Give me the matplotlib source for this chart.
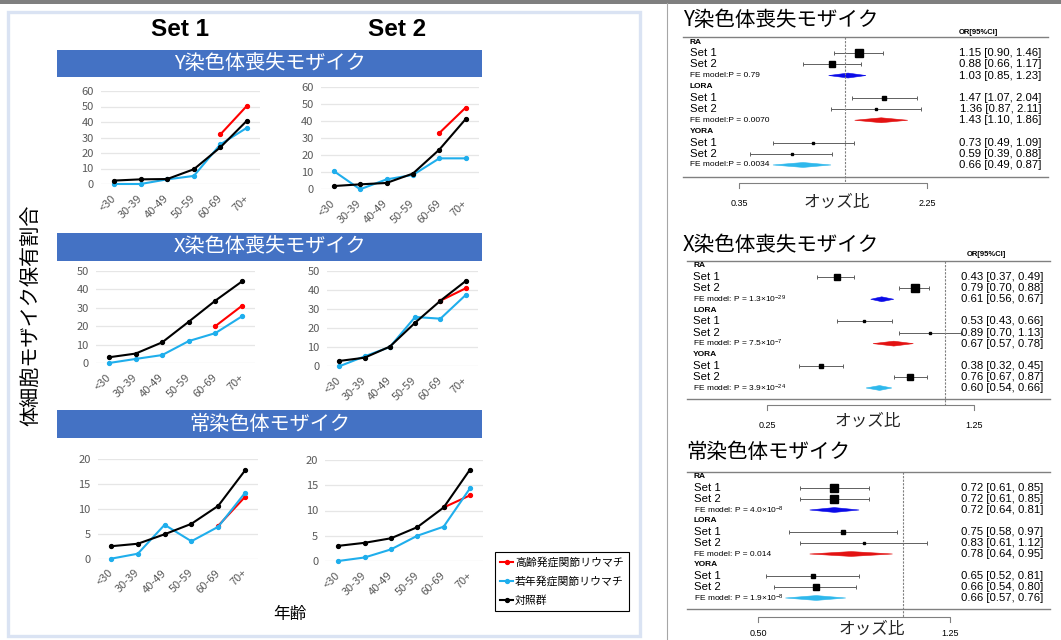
import numpy as np
import matplotlib
matplotlib.use("Agg")
import matplotlib.pyplot as plt
from matplotlib.patches import Rectangle, Polygon
from matplotlib.lines import Line2D

plt.rcParams['font.family'] = ['Noto Sans CJK JP', 'DejaVu Sans']
plt.rcParams['mathtext.default'] = 'regular'

# ---------------- data: prevalence of mosaicism by age group (%) ----------------
age_groups = ["<30", "30-39", "40-49", "50-59", "60-69", "70+"]
late_groups = ["60-69", "70+"]          # ages available for late-onset RA

lossy_set1_ctrl = [2.2, 3.0, 3.2, 9.5, 23.7, 40.9]
lossy_set1_yora = [0.0, 0.0, 3.0, 5.2, 25.6, 36.3]
lossy_set1_lora = [32.0, 50.5]
lossy_set2_ctrl = [1.9, 2.9, 3.7, 9.2, 23.2, 41.1]
lossy_set2_yora = [10.7, 0.0, 5.8, 8.4, 18.1, 18.1]
lossy_set2_lora = [32.9, 47.8]

lossx_set1_ctrl = [3.1, 5.1, 11.2, 22.4, 33.8, 44.2]
lossx_set1_yora = [0.0, 2.2, 4.3, 11.9, 16.2, 25.3]
lossx_set1_lora = [20.0, 31.0]
lossx_set2_ctrl = [2.8, 4.5, 10.3, 22.8, 34.3, 44.6]
lossx_set2_yora = [0.0, 5.2, 10.1, 25.8, 24.9, 37.3]
lossx_set2_lora = [34.3, 40.8]

auto_set1_ctrl = [2.5, 3.0, 4.9, 7.0, 10.6, 17.7]
auto_set1_yora = [0.0, 1.0, 6.8, 3.5, 6.4, 13.2]
auto_set1_lora = [6.6, 12.4]
auto_set2_ctrl = [3.0, 3.6, 4.5, 6.7, 10.6, 18.1]
auto_set2_yora = [0.0, 0.7, 2.3, 5.0, 6.8, 14.4]
auto_set2_lora = [10.6, 13.0]

yticks_lossy = [0, 10, 20, 30, 40, 50, 60]
yticks_lossx = [0, 10, 20, 30, 40, 50]
yticks_auto = [0, 5, 10, 15, 20]

series_labels = ["高齢発症関節リウマチ", "若年発症関節リウマチ", "対照群"]
panel_titles = ["Y染色体喪失モザイク", "X染色体喪失モザイク", "常染色体モザイク"]

# ---------------- data: odds ratios (Set 1, Set 2 per group) ----------------
groups = ["RA", "LORA", "YORA"]
studies = ["Set 1", "Set 2"]

lossy_or = [1.15, 0.88, 1.47, 1.36, 0.73, 0.59]
lossy_lo = [0.90, 0.66, 1.07, 0.87, 0.49, 0.39]
lossy_hi = [1.46, 1.17, 2.04, 2.11, 1.09, 0.88]
lossy_fe_or = [1.03, 1.43, 0.66]
lossy_fe_lo = [0.85, 1.10, 0.49]
lossy_fe_hi = [1.23, 1.86, 0.87]
lossy_fe_p = ["FE model:P = 0.79", "FE model:P = 0.0070", "FE model:P = 0.0034"]

lossx_or = [0.43, 0.79, 0.53, 0.89, 0.38, 0.76]
lossx_lo = [0.37, 0.70, 0.43, 0.70, 0.32, 0.67]
lossx_hi = [0.49, 0.88, 0.66, 1.13, 0.45, 0.87]
lossx_fe_or = [0.61, 0.67, 0.60]
lossx_fe_lo = [0.56, 0.57, 0.54]
lossx_fe_hi = [0.67, 0.78, 0.66]
lossx_fe_p = [r"FE model: P = 1.3×10$^{-29}$", r"FE model: P = 7.5×10$^{-7}$",
              r"FE model: P = 3.9×10$^{-24}$"]

auto_or = [0.72, 0.72, 0.75, 0.83, 0.65, 0.66]
auto_lo = [0.61, 0.61, 0.58, 0.61, 0.52, 0.54]
auto_hi = [0.85, 0.85, 0.97, 1.12, 0.81, 0.80]
auto_fe_or = [0.72, 0.78, 0.66]
auto_fe_lo = [0.64, 0.64, 0.57]
auto_fe_hi = [0.81, 0.95, 0.76]
auto_fe_p = [r"FE model: P = 4.0×10$^{-8}$", "FE model: P = 0.014",
             r"FE model: P = 1.9×10$^{-8}$"]

# ---------------- figure and pixel helpers ----------------
W, H = 1061, 640
fig = plt.figure(figsize=(W / 100, H / 100), dpi=100)
fig.patch.set_facecolor('white')


def fx(px):
    return px / W


def fy(py):
    return 1 - py / H


def px_axes(l, t, r, b):
    return fig.add_axes([l / W, 1 - b / H, (r - l) / W, (b - t) / H])


def fig_rect(l, t, r, b, **kw):
    fig.patches.append(Rectangle((fx(l), fy(b)), (r - l) / W, (b - t) / H,
                                 transform=fig.transFigure, **kw))


# frame decorations
fig_rect(0, 0, W, 3.5, facecolor='#7F7F7F', edgecolor='none')
fig.add_artist(Line2D([fx(667), fx(667)], [0, fy(3)], transform=fig.transFigure,
                      color='#A6A6A6', lw=0.8))
fig_rect(8, 12, 640, 636, facecolor='none', edgecolor='#DAE3F3', lw=2.4)

# ---------------- line charts ----------------
C_LORA, C_YORA, C_CTRL = '#FF0000', '#1FAEEC', '#000000'
GRAY = '#595959'

fig.text(fx(180), fy(30), "Set 1", fontsize=17.5, fontweight='bold',
         family=['Liberation Sans'], ha='center', va='center')
fig.text(fx(397), fy(30), "Set 2", fontsize=17.5, fontweight='bold',
         family=['Liberation Sans'], ha='center', va='center')

bands = [(50, 77), (233, 261), (410, 438)]
for (bt, bb), title in zip(bands, panel_titles):
    fig_rect(57, bt, 482, bb, facecolor='#4472C4', edgecolor='none')
    fig.text(fx(269.5), fy((bt + bb) / 2), title, color='white', fontsize=14.5,
             ha='center', va='center')

# (first category x, last category x, pixel of 0, pixel of top tick)
chart_boxes = [
    (114, 247, 184.0, 91.0), (333.7, 465.7, 189.3, 86.7),
    (109, 242, 363.0, 270.7), (339.3, 465.7, 366.3, 270.7),
    (111, 245, 558.7, 459.0), (338.3, 470, 561.0, 460.0),
]
chart_data = [
    (lossy_set1_ctrl, lossy_set1_yora, lossy_set1_lora, yticks_lossy),
    (lossy_set2_ctrl, lossy_set2_yora, lossy_set2_lora, yticks_lossy),
    (lossx_set1_ctrl, lossx_set1_yora, lossx_set1_lora, yticks_lossx),
    (lossx_set2_ctrl, lossx_set2_yora, lossx_set2_lora, yticks_lossx),
    (auto_set1_ctrl, auto_set1_yora, auto_set1_lora, yticks_auto),
    (auto_set2_ctrl, auto_set2_yora, auto_set2_lora, yticks_auto),
]

xpos = np.arange(len(age_groups))
late_pos = [age_groups.index(g) for g in late_groups]
handles = None
for (x0, x5, y0, ytop), (ctrl, yora, lora, yt) in zip(chart_boxes, chart_data):
    step = (x5 - x0) / (len(age_groups) - 1)
    ax = px_axes(x0 - step / 2, ytop, x5 + step / 2, y0)
    ax.set_xlim(-0.5, len(age_groups) - 0.5)
    ax.set_ylim(yt[0], yt[-1])
    kw = dict(lw=1.5, marker='o', markersize=2.8, clip_on=False)
    h_l, = ax.plot(late_pos, lora, color=C_LORA, zorder=3, **kw)
    h_y, = ax.plot(xpos, yora, color=C_YORA, zorder=4, **kw)
    h_c, = ax.plot(xpos, ctrl, color=C_CTRL, zorder=5, **kw)
    handles = [h_l, h_y, h_c]
    ax.set_yticks(yt)
    ax.set_xticks(xpos)
    ax.set_xticklabels(age_groups, rotation=45, ha='right', va='center',
                       rotation_mode='anchor')
    ax.tick_params(axis='both', length=0, labelsize=8, labelcolor=GRAY)
    ax.tick_params(axis='y', pad=5.0)
    ax.tick_params(axis='x', pad=9)
    ax.yaxis.grid(True, color='#E6E6E6', lw=0.9)
    ax.set_axisbelow(True)
    for s in ax.spines.values():
        s.set_visible(False)
    ax.patch.set_alpha(0)

fig.text(fx(32), fy(315), "体細胞モザイク保有割合", rotation=90, fontsize=14.5,
         ha='center', va='center')
fig.text(fx(290), fy(615), "年齢", fontsize=12, ha='center', va='center')

leg = fig.legend(handles, series_labels, loc='upper left',
                 bbox_to_anchor=(fx(495), fy(552)), bbox_transform=fig.transFigure,
                 frameon=True, fancybox=False, edgecolor='black', framealpha=1,
                 fontsize=7.8, handlelength=1.2, handletextpad=0.15, borderpad=0.5,
                 labelspacing=0.75, borderaxespad=0)
leg.get_frame().set_linewidth(0.8)

# ---------------- forest plots ----------------
LAT = ['Liberation Sans', 'DejaVu Sans']
FE_COLORS = ['#0B0BE8', '#E31212', '#2EB8EC']


def draw_forest(est, lo, hi, fe_est, fe_lo, fe_hi, fe_lab, title, lay):
    l, r, t, b = lay['box']
    row0, dy = lay['rows']
    ax = px_axes(l, t, r, b)
    ax.set_ylim((b - row0) / dy, (t - row0) / dy)
    (va_, pa), (vb, pb) = lay['scale']
    slope = (np.log(vb) - np.log(va_)) / (pb - pa)
    ax.set_xscale('log')
    ax.set_xlim(np.exp(np.log(va_) + (l - pa) * slope),
                np.exp(np.log(va_) + (r - pa) * slope))
    ax.set_xticks([])
    ax.set_yticks([])
    ax.minorticks_off()
    ax.patch.set_alpha(0)
    for side in ('left', 'right'):
        ax.spines[side].set_visible(False)
    for side in ('top', 'bottom'):
        ax.spines[side].set_color('#808080')
        ax.spines[side].set_linewidth(1.0)

    def afx(px):
        return (px - l) / (r - l)

    def afy(py):
        return (b - py) / (b - t)

    ytr = ax.get_yaxis_transform()
    xtr = ax.get_xaxis_transform()

    est, lo, hi = map(np.asarray, (est, lo, hi))
    se = (np.log(hi) - np.log(lo)) / (2 * 1.96)
    w = 1 / se ** 2
    psize = 0.5 + (w - w.min()) / (w.max() - w.min())

    lx = afx(lay['label_x'])
    nx = afx(lay['num_x'])
    for g, grp in enumerate(groups):
        hrow = 4 * g
        ax.text(lx, hrow, grp, transform=ytr, fontsize=6, fontweight='bold',
                family=LAT, ha='left', va='center')
        for s, st in enumerate(studies):
            i = 2 * g + s
            row = hrow + 1 + s
            ax.errorbar(est[i], row, xerr=[[est[i] - lo[i]], [hi[i] - est[i]]],
                        fmt='none', ecolor='#606060', elinewidth=0.7,
                        capsize=1.6, capthick=0.7)
            ax.plot(est[i], row, marker='s', color='black', markersize=3.6 * psize[i],
                    linestyle='none')
            ax.text(lx, row, st, transform=ytr, fontsize=8.2, family=LAT,
                    ha='left', va='center')
            ax.text(nx, row, f"{est[i]:.2f} [{lo[i]:.2f}, {hi[i]:.2f}]", transform=ytr,
                    fontsize=8.2, family=LAT, ha='right', va='center')
        frow = hrow + 3
        hgt = 0.22
        ax.add_patch(Polygon([[fe_lo[g], frow], [fe_est[g], frow - hgt],
                              [fe_hi[g], frow], [fe_est[g], frow + hgt]],
                             closed=True, facecolor=FE_COLORS[g],
                             edgecolor=FE_COLORS[g], lw=0.4))
        ax.text(lx, frow, fe_lab[g], transform=ytr, fontsize=6, family=LAT,
                ha='left', va='center')
        ax.text(nx, frow, f"{fe_est[g]:.2f} [{fe_lo[g]:.2f}, {fe_hi[g]:.2f}]",
                transform=ytr, fontsize=8.2, family=LAT, ha='right', va='center')

    br = lay['bracket_y']
    ax.plot([1, 1], [1, afy(br)], transform=xtr, clip_on=False, color='#808080',
            lw=0.8, ls=(0, (2, 1.2)))
    ax.plot([va_, va_, vb, vb], [afy(br + 5), afy(br), afy(br), afy(br + 5)],
            transform=xtr, clip_on=False, color='#808080', lw=0.8)
    for v in (va_, vb):
        ax.text(v, afy(lay['tick_y']), f"{v:.2f}", transform=xtr, fontsize=6.5,
                family=LAT, ha='center', va='center')
    xl_x, xl_y = lay['xlabel']
    fig.text(fx(xl_x), fy(xl_y), "オッズ比", fontsize=12, ha='center', va='center',
             color='#262626')
    tx, ty = lay['title']
    fig.text(fx(tx), fy(ty), title, fontsize=14.8, ha='left', va='center')
    if lay.get('header') is not None:
        hx, hy = lay['header']
        fig.text(fx(hx), fy(hy), "OR[95%CI]", fontsize=5.5, fontweight='bold',
                 family=LAT, ha='left', va='center')


draw_forest(lossy_or, lossy_lo, lossy_hi, lossy_fe_or, lossy_fe_lo, lossy_fe_hi,
            lossy_fe_p, panel_titles[0],
            dict(box=(683, 1048, 37, 177), rows=(42, 11.18),
                 scale=((0.35, 739), (2.25, 927)), label_x=690, num_x=1041,
                 bracket_y=183, tick_y=203, xlabel=(837, 202), title=(683, 20),
                 header=(959, 32)))

draw_forest(lossx_or, lossx_lo, lossx_hi, lossx_fe_or, lossx_fe_lo, lossx_fe_hi,
            lossx_fe_p, panel_titles[1],
            dict(box=(687, 1050, 261, 399), rows=(266, 11.09),
                 scale=((0.25, 767), (1.25, 974)), label_x=693, num_x=1043,
                 bracket_y=405, tick_y=425, xlabel=(868, 421), title=(683, 245),
                 header=(967, 255)))

draw_forest(auto_or, auto_lo, auto_hi, auto_fe_or, auto_fe_lo, auto_fe_hi,
            auto_fe_p, panel_titles[2],
            dict(box=(687, 1050, 472, 609), rows=(477, 11.0),
                 scale=((0.50, 758), (1.25, 950)), label_x=694, num_x=1043,
                 bracket_y=617, tick_y=634, xlabel=(872, 629), title=(686, 452),
                 header=None))

fig.savefig("out.png", dpi=100, facecolor='white')
